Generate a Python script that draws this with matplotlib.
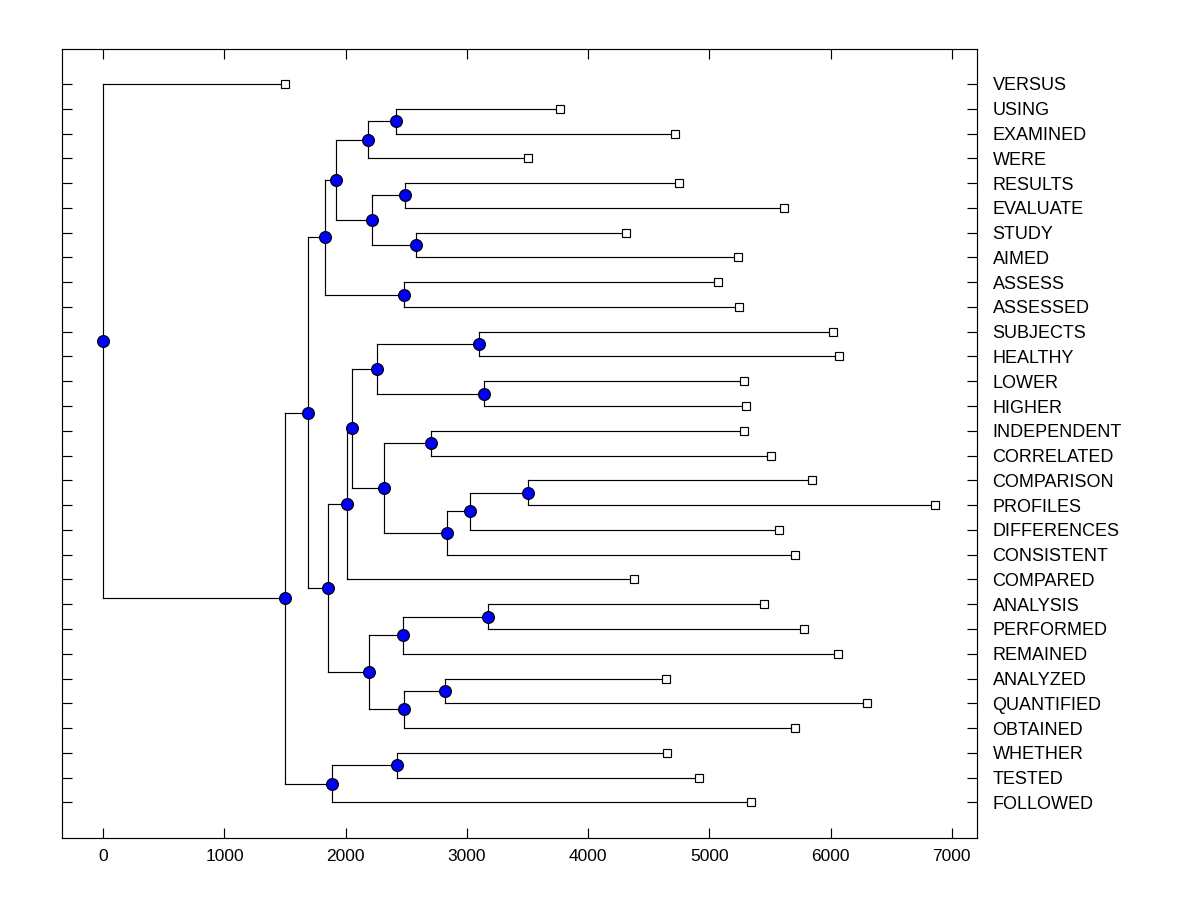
import matplotlib
matplotlib.use("Agg")
import matplotlib.pyplot as plt

plt.rcParams['font.family'] = ['Liberation Sans', 'DejaVu Sans']

# Leaves (top to bottom) and their x-values
leaf_labels = ["VERSUS", "USING", "EXAMINED", "WERE", "RESULTS", "EVALUATE", "STUDY",
               "AIMED", "ASSESS", "ASSESSED", "SUBJECTS", "HEALTHY", "LOWER", "HIGHER",
               "INDEPENDENT", "CORRELATED", "COMPARISON", "PROFILES", "DIFFERENCES",
               "CONSISTENT", "COMPARED", "ANALYSIS", "PERFORMED", "REMAINED", "ANALYZED",
               "QUANTIFIED", "OBTAINED", "WHETHER", "TESTED", "FOLLOWED"]
leaf_values = [1503, 3772, 4721, 3508, 4754, 5620, 4309,
               5233, 5068, 5241, 6017, 6074, 5290, 5299,
               5290, 5513, 5851, 6866, 5579,
               5711, 4375, 5455, 5785, 6058, 4639,
               6305, 5711, 4647, 4911, 5340]

# Internal nodes: name -> (child1, child2)
node_names = ["root", "nA", "nB", "nC", "nD", "nE", "nF", "nG", "nH", "nI", "nJ",
              "nK", "nL", "nM", "nN", "nO", "nP", "nQ", "nR", "nS", "nS2", "nS3",
              "nT", "nU", "nV", "nX", "nY", "nZ", "nZ1"]
node_children = [("VERSUS", "nA"), ("nB", "nZ"), ("nC", "nK"), ("nD", "nJ"),
                 ("nE", "nG"), ("nF", "WERE"), ("USING", "EXAMINED"), ("nH", "nI"),
                 ("RESULTS", "EVALUATE"), ("STUDY", "AIMED"), ("ASSESS", "ASSESSED"),
                 ("nL", "nT"), ("nM", "COMPARED"), ("nN", "nQ"), ("nO", "nP"),
                 ("SUBJECTS", "HEALTHY"), ("LOWER", "HIGHER"), ("nR", "nS"),
                 ("INDEPENDENT", "CORRELATED"), ("nS2", "CONSISTENT"),
                 ("nS3", "DIFFERENCES"), ("COMPARISON", "PROFILES"),
                 ("nU", "nX"), ("nV", "REMAINED"), ("ANALYSIS", "PERFORMED"),
                 ("nY", "OBTAINED"), ("ANALYZED", "QUANTIFIED"),
                 ("nZ1", "FOLLOWED"), ("WHETHER", "TESTED")]
node_values = [0, 1503, 1693, 1833, 1924, 2180, 2419, 2213, 2493, 2576, 2477,
               1858, 2007, 2048, 2262, 3096, 3145, 2320, 2708, 2832, 3022, 3508,
               2196, 2469, 3178, 2477, 2823, 1891, 2427]

xticks = [0, 1000, 2000, 3000, 4000, 5000, 6000, 7000]

# ---- build positions ----
xpos = {}
ypos = {}
for i, (lab, v) in enumerate(zip(leaf_labels, leaf_values)):
    xpos[lab] = v
    ypos[lab] = i
children = dict(zip(node_names, node_children))
for n, v in zip(node_names, node_values):
    xpos[n] = v

def get_y(name):
    if name in ypos:
        return ypos[name]
    a, b = children[name]
    ypos[name] = (get_y(a) + get_y(b)) / 2.0
    return ypos[name]

for n in node_names:
    get_y(n)

fig = plt.figure(figsize=(12, 9), dpi=100)
ax = fig.add_axes([62.3 / 1200, 1 - 838.3 / 900, (977.3 - 62.3) / 1200, (838.3 - 49.3) / 900])

lw = 0.85
for n in node_names:
    a, b = children[n]
    x = xpos[n]
    ax.plot([x, x], [ypos[a], ypos[b]], color='black', lw=lw, zorder=1)
    for c in (a, b):
        ax.plot([x, xpos[c]], [ypos[c], ypos[c]], color='black', lw=lw, zorder=1)

ax.plot(leaf_values, list(range(len(leaf_labels))), linestyle='none', marker='s',
        markersize=6, markerfacecolor='white', markeredgecolor='black',
        markeredgewidth=0.85, zorder=3)
ax.plot([xpos[n] for n in node_names], [ypos[n] for n in node_names], linestyle='none',
        marker='o', markersize=8.5, markerfacecolor='#0000ff', markeredgecolor='black',
        markeredgewidth=0.85, zorder=4)

ax.set_xlim(-338, 7211)
ax.set_ylim(len(leaf_labels) - 1 + 1.45, -1.40)
ax.set_xticks(xticks)
ax.set_xticklabels([str(t) for t in xticks])
ax.set_yticks(range(len(leaf_labels)))
ax.set_yticklabels(leaf_labels)

ax.tick_params(axis='y', left=True, right=True, labelleft=False, labelright=True,
               direction='in', length=7.2, width=0.85, pad=11, labelsize=13)
ax.tick_params(axis='x', bottom=True, top=True, labelbottom=True, labeltop=False,
               direction='in', length=7.2, width=0.85, pad=8, labelsize=12.5)
for s in ax.spines.values():
    s.set_linewidth(0.85)

fig.savefig("out.png", dpi=100)
